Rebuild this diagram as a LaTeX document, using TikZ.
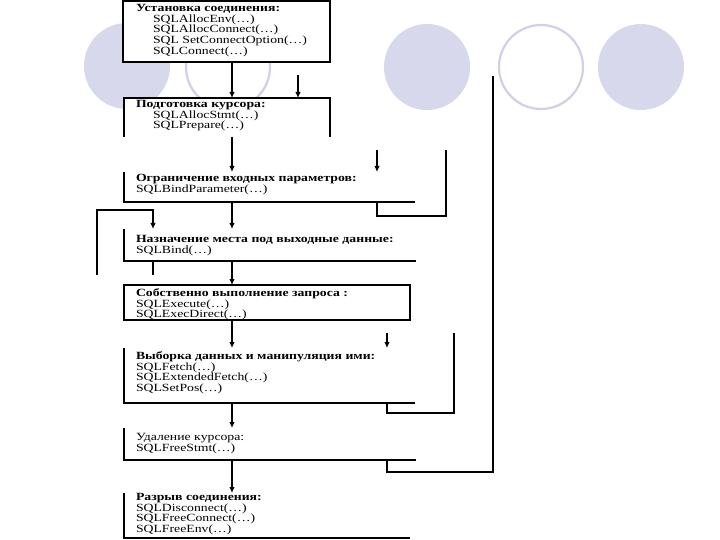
\documentclass[tikz,border=0pt]{standalone}
\usepackage{fontspec}
\usepackage{graphicx}
\setmainfont{Liberation Serif}
\usetikzlibrary{arrows.meta}
\definecolor{lav}{HTML}{D8D8EC}
\definecolor{lavline}{HTML}{D0D0E6}
\newcommand{\blines}[1]{\scalebox{1.25}[1]{\vtop{\baselineskip=10.7pt\lineskiplimit=-20pt\lineskip=0pt #1}}}
\newcommand{\ind}{\kern13.6pt}
\begin{document}
\begin{tikzpicture}[x=1pt,y=-1pt,
  fillc/.style={fill=lav,draw=none},
  openc/.style={draw=lavline,line width=2.2pt,fill=white},
  boxn/.style={rectangle,draw=none,inner sep=0pt,outer sep=0pt,anchor=north west},
  edge/.style={line width=1.1pt,black},
  arr/.style={line width=1.1pt,black,-{Latex[length=6pt,width=5.5pt]}},
  txt/.style={inner sep=0pt,outer sep=0pt,anchor=base west,font=\fontsize{11}{10.7}\selectfont}]
\useasboundingbox (0,0) rectangle (720,540);
\fill[white] (0,0) rectangle (720,540);
% background circles
\node[fillc,circle,minimum size=86pt] (c1) at (127,66) {};
\node[openc,circle,minimum size=84pt] (c2) at (228,67) {};
\node[fillc,circle,minimum size=86pt] (c3) at (427,67) {};
\node[openc,circle,minimum size=84pt] (c4) at (541,67) {};
\node[fillc,circle,minimum size=86pt] (c5) at (641,67) {};
% boxes
\node[boxn,minimum width=207pt,minimum height=61pt,fill=white] (b1) at (123,1) {};
\node[boxn,minimum width=206pt,minimum height=39pt,fill=white] (b2) at (124,98) {};
\node[boxn,minimum width=291pt,minimum height=30pt] (b3) at (124,172) {};
\node[boxn,minimum width=292pt,minimum height=32pt] (b4) at (124,229) {};
\node[boxn,minimum width=286pt,minimum height=35pt] (b5) at (124,285) {};
\node[boxn,minimum width=291pt,minimum height=55pt] (b6) at (124,348) {};
\node[boxn,minimum width=292pt,minimum height=32pt] (b7) at (124,428) {};
\node[boxn,minimum width=286pt,minimum height=45pt] (b8) at (124,493) {};
\draw[edge] (b1.north west) rectangle (b1.south east);
\draw[edge] (b2.south west) -- (b2.north west) -- (b2.north east) -- (b2.south east);
\draw[edge] (b3.north west) -- (b3.south west) -- (b3.south east);
\draw[edge] (b4.north west) -- (b4.south west) -- (b4.south east);
\draw[edge] (b5.north west) rectangle (b5.south east);
\draw[edge] (b6.north west) -- (b6.south west) -- (b6.south east);
\draw[edge] (b7.north west) -- (b7.south west) -- (b7.south east);
\draw[edge] (b8.north west) -- (b8.south west) -- (b8.south east);
% texts
\node[txt] (t1) at (136,11.5) {\blines{\hbox{\textbf{Установка соединения:}}\hbox{\ind SQLAllocEnv(…)}\hbox{\ind SQLAllocConnect(…)}\hbox{\ind SQL SetConnectOption(…)}\hbox{\ind SQLConnect(…)}}};
\node[txt] (t2) at (136,107.5) {\blines{\hbox{\textbf{Подготовка курсора:}}\hbox{\ind SQLAllocStmt(…)}\hbox{\ind SQLPrepare(…)}}};
\node[txt] (t3) at (136,181.5) {\blines{\hbox{\textbf{Ограничение входных параметров:}}\hbox{SQLBindParameter(…)}}};
\node[txt] (t4) at (136,242.5) {\blines{\hbox{\textbf{Назначение места под выходные данные:}}\hbox{SQLBind(…)}}};
\node[txt] (t5) at (136,296.5) {\blines{\hbox{\textbf{Собственно выполнение запроса :}}\hbox{SQLExecute(…)}\hbox{SQLExecDirect(…)}}};
\node[txt] (t6) at (136,359.5) {\blines{\hbox{\textbf{Выборка данных и манипуляция ими:}}\hbox{SQLFetch(…)}\hbox{SQLExtendedFetch(…)}\hbox{SQLSetPos(…)}}};
\node[txt] (t7) at (136,440.5) {\blines{\hbox{Удаление курсора:}\hbox{SQLFreeStmt(…)}}};
\node[txt] (t8) at (136,500.5) {\blines{\hbox{\textbf{Разрыв соединения:}}\hbox{SQLDisconnect(…)}\hbox{SQLFreeConnect(…)}\hbox{SQLFreeEnv(…)}}};
% main flow
\coordinate (mx) at (232,0);
\draw[arr] (b1.south -| mx) -- (b2.north -| mx);
\draw[arr] (b2.south -| mx) -- (b3.north -| mx);
\draw[arr] (b3.south -| mx) -- (b4.north -| mx);
\draw[arr] (b4.south -| mx) -- (b5.north -| mx);
\draw[arr] (b5.south -| mx) -- (b6.north -| mx);
\draw[arr] (b6.south -| mx) -- (b7.north -| mx);
\draw[arr] (b7.south -| mx) -- (b8.north -| mx);
% side arrow into b2
\coordinate (s1) at (298,75);
\draw[arr] (s1) -- (b2.north -| s1);
% loop at b3
\coordinate (la) at (377,150);
\coordinate (la1) at (377,216);
\coordinate (ra) at (446,150);
\draw[arr] (la) -- (b3.north -| la);
\draw[edge] (b3.south -| la) -- (la1) -| (ra);
% tall loop from b7
\coordinate (tb) at (493,76);
\coordinate (tb1) at (387,472);
\draw[edge] (b7.south -| tb1) -- (tb1) -| (tb);
% loop at b6
\coordinate (lb) at (387,333);
\coordinate (lb1) at (387,413);
\coordinate (rb) at (454,333);
\draw[arr] (lb) -- (b6.north -| lb);
\draw[edge] (b6.south -| lb) -- (lb1) -| (rb);
% left loop at b4
\coordinate (ll) at (97,275);
\coordinate (lt) at (153,210);
\coordinate (lb2) at (153,275);
\draw[arr] (ll) |- (lt) -- (b4.north -| lt);
\draw[edge] (b4.south -| lt) -- (lb2);
\end{tikzpicture}
\end{document}
